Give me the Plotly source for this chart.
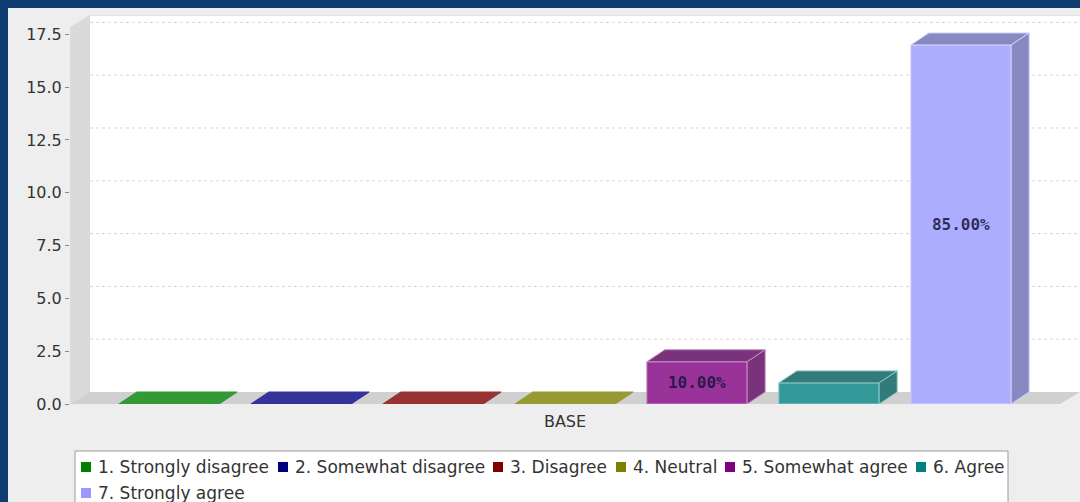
import plotly.graph_objects as go

# ---- data -------------------------------------------------------------
category = "BASE"
series = [
    "1. Strongly disagree",
    "2. Somewhat disagree",
    "3. Disagree",
    "4. Neutral",
    "5. Somewhat agree",
    "6. Agree",
    "7. Strongly agree",
]
counts = [0, 0, 0, 0, 2, 1, 17]
y_ticks = [0.0, 2.5, 5.0, 7.5, 10.0, 12.5, 15.0, 17.5]

# ---- style ------------------------------------------------------------
base_colors = ["#008000", "#000080", "#800000", "#808000",
               "#800080", "#008080", "#9999FF"]
FONT = "DejaVu Sans"
W, H = 1080, 502
L, R, T, B = 70, 0, 15, 98          # margins -> plot box 70..1080 x 15..404
PLOT_W, PLOT_H = W - L - R, H - T - B
WALL_DX_PX, WALL_DY_PX = 20, 12     # depth of the 3-D walls
BAR_DX_PX, BAR_DY_PX = 18, 12       # depth of each bar
BAR_W = 0.76                        # bar width in category units
X_LO, X_HI_FRONT = -0.75, len(series) - 0.25


def hex_rgb(c):
    c = c.lstrip("#")
    return [int(c[i:i + 2], 16) for i in (0, 2, 4)]


def blend(c, alpha=0.8, factor=1.0):
    """Series colour (optionally darkened) painted with alpha over white."""
    r, g, b = (int(v * factor) for v in hex_rgb(c))
    return "rgb(%d,%d,%d)" % tuple(round(v * alpha + 255 * (1 - alpha)) for v in (r, g, b))


front_cols = [blend(c) for c in base_colors]
shade_cols = [blend(c, factor=0.7) for c in base_colors]
edge_cols = [blend(c, alpha=0.45) for c in base_colors]

# scales
px_per_x = (PLOT_W - WALL_DX_PX) / (X_HI_FRONT - X_LO)
wall_dx = WALL_DX_PX / px_per_x
bar_dx = BAR_DX_PX / px_per_x
y_top = max(counts) * 1.05
px_per_y = (PLOT_H - WALL_DY_PX) / y_top
wall_dy = WALL_DY_PX / px_per_y
bar_dy = BAR_DY_PX / px_per_y
x_hi = X_HI_FRONT + wall_dx
y_hi = y_top + wall_dy

total = sum(counts)
positions = list(range(len(series)))
labels = ["%.2f%%" % (v / total * 100) for v in counts]


def px_to_paper(xp, yp):
    return (xp - L) / PLOT_W, (H - B - yp) / PLOT_H


fig = go.Figure()

# front faces of the bars
fig.add_trace(go.Bar(
    x=positions, y=counts, width=BAR_W,
    marker=dict(color=front_cols, line=dict(color=edge_cols, width=1)),
    text=labels, textposition="inside", insidetextanchor="middle",
    textfont=dict(family="DejaVu Sans Mono", size=16, weight="bold",
                  color="rgba(20,20,60,0.85)"),
    hoverinfo="skip", showlegend=False,
))

# top and side faces
for i, v in enumerate(counts):
    x0, x1 = positions[i] - BAR_W / 2, positions[i] + BAR_W / 2
    top_col = shade_cols[i] if v > 0 else front_cols[i]
    fig.add_trace(go.Scatter(
        x=[x0, x1, x1 + bar_dx, x0 + bar_dx, x0],
        y=[v, v, v + bar_dy, v + bar_dy, v],
        fill="toself", fillcolor=top_col, mode="lines",
        line=dict(color=edge_cols[i] if v > 0 else top_col, width=1),
        hoverinfo="skip", showlegend=False,
    ))
    if v > 0:
        fig.add_trace(go.Scatter(
            x=[x1, x1 + bar_dx, x1 + bar_dx, x1, x1],
            y=[0, bar_dy, v + bar_dy, v, 0],
            fill="toself", fillcolor=shade_cols[i], mode="lines",
            line=dict(color=edge_cols[i], width=1),
            hoverinfo="skip", showlegend=False,
        ))

shapes = []
# light-grey panel inside the dark blue frame
p0 = px_to_paper(8, 8)
p1 = px_to_paper(W, H)
shapes.append(dict(type="rect", xref="paper", yref="paper", layer="below",
                   x0=p0[0], y0=p1[1], x1=p1[0], y1=p0[1],
                   fillcolor="#eeeeee", line=dict(width=0)))
# back wall
shapes.append(dict(type="rect", xref="x", yref="y", layer="below",
                   x0=X_LO + wall_dx, x1=x_hi, y0=wall_dy, y1=y_hi,
                   fillcolor="white", line=dict(width=0)))
shapes.append(dict(type="line", xref="x", yref="y", layer="below",
                   x0=X_LO + wall_dx, x1=x_hi, y0=y_hi, y1=y_hi,
                   line=dict(color="#c9c3c9", width=1)))
# left wall
shapes.append(dict(type="path", xref="x", yref="y", layer="below",
                   path="M %f,%f L %f,%f L %f,%f L %f,%f Z" % (
                       X_LO, 0, X_LO + wall_dx, wall_dy,
                       X_LO + wall_dx, y_hi, X_LO, y_top),
                   fillcolor="#dadada", line=dict(width=0)))
# floor
shapes.append(dict(type="path", xref="x", yref="y", layer="below",
                   path="M %f,%f L %f,%f L %f,%f L %f,%f Z" % (
                       X_LO, 0, X_LO + wall_dx, wall_dy,
                       x_hi, wall_dy, X_HI_FRONT, 0),
                   fillcolor="#d0d0d0", line=dict(width=0)))
# dotted gridlines on the back wall
for t in y_ticks[1:]:
    shapes.append(dict(type="line", xref="x", yref="y", layer="below",
                       x0=X_LO + wall_dx, x1=x_hi, y0=t + wall_dy, y1=t + wall_dy,
                       line=dict(color="#d6d6d6", width=1, dash="dot")))

# legend box
lb0 = px_to_paper(75, 451)
lb1 = px_to_paper(1008, 512)
shapes.append(dict(type="rect", xref="paper", yref="paper",
                   x0=lb0[0], y0=lb1[1], x1=lb1[0], y1=lb0[1],
                   fillcolor="white", line=dict(color="#9a9a9a", width=1)))

annotations = []
legend_slots = [(81, 467), (278, 467), (493, 467), (616, 467),
                (725, 467), (916, 467), (81, 493)]
SQ = 10
for i, name in enumerate(series):
    sx, sy = legend_slots[i]
    a = px_to_paper(sx, sy - SQ / 2)
    b = px_to_paper(sx + SQ, sy + SQ / 2)
    shapes.append(dict(type="rect", xref="paper", yref="paper",
                       x0=a[0], y0=b[1], x1=b[0], y1=a[1],
                       fillcolor=base_colors[i], line=dict(width=0)))
    tp = px_to_paper(sx + SQ + 5, sy)
    annotations.append(dict(xref="paper", yref="paper", x=tp[0], y=tp[1],
                            xanchor="left", yanchor="middle", showarrow=False,
                            text=name, font=dict(family=FONT, size=17, color="#333333")))

fig.update_layout(
    width=W, height=H,
    margin=dict(l=L, r=R, t=T, b=B, pad=0),
    paper_bgcolor="#0f3d72",
    plot_bgcolor="rgba(0,0,0,0)",
    barmode="overlay",
    showlegend=False,
    shapes=shapes,
    annotations=annotations,
    uniformtext=dict(minsize=16, mode="hide"),
    xaxis=dict(range=[X_LO, x_hi], tickvals=[(len(series) - 1) / 2],
               ticktext=[category], showgrid=False, zeroline=False,
               showline=False, ticks="", ticklabelstandoff=6,
               tickfont=dict(family=FONT, size=16, color="#333333"),
               fixedrange=True),
    yaxis=dict(range=[0, y_hi], tickvals=y_ticks,
               ticktext=["%.1f" % t for t in y_ticks],
               showgrid=False, zeroline=False, showline=False,
               ticks="outside", ticklen=4, tickcolor="#888888",
               tickfont=dict(family=FONT, size=16, color="#333333"),
               fixedrange=True),
)

fig.write_html("out.html")
